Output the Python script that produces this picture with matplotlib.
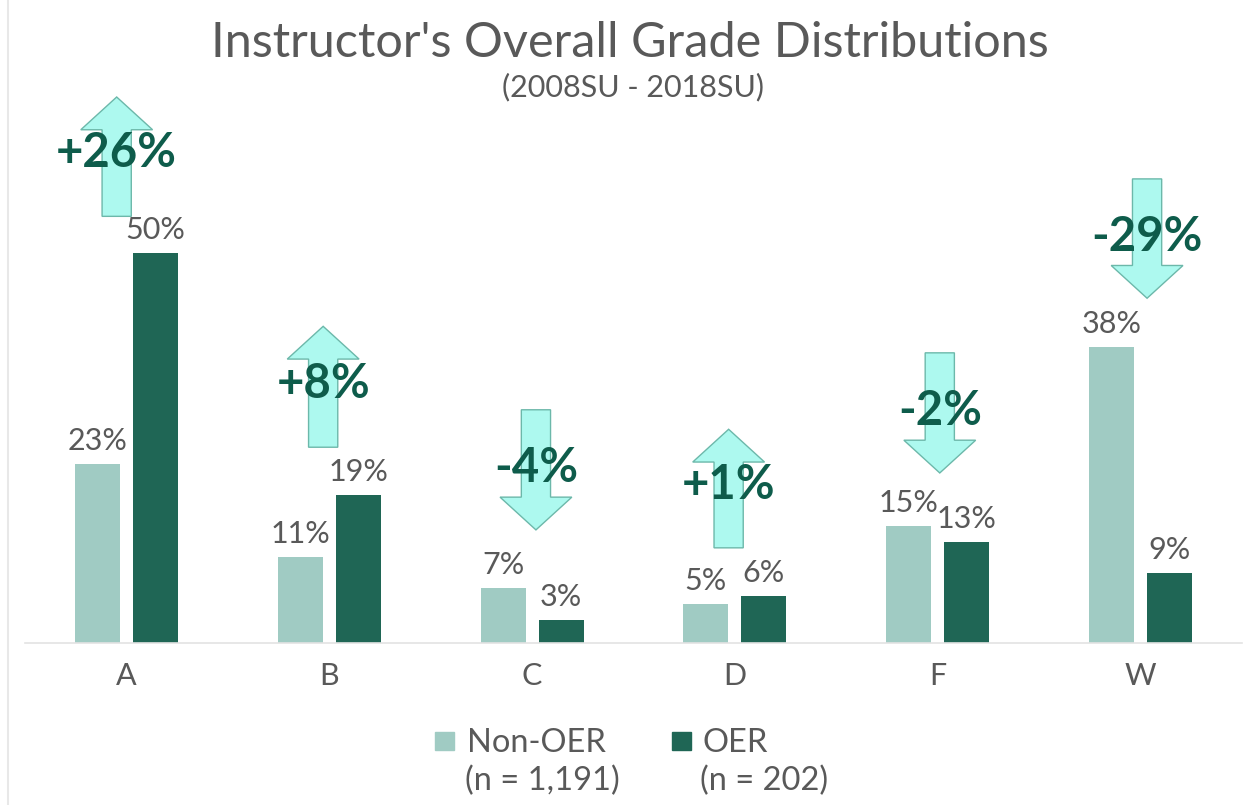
import numpy as np
import matplotlib
matplotlib.use("Agg")
import matplotlib.pyplot as plt
from matplotlib.patches import Polygon, Rectangle
from matplotlib.lines import Line2D

plt.rcParams["font.family"] = ["Lato", "DejaVu Sans"]

# data
grades = ["A", "B", "C", "D", "F", "W"]
non_oer = [23, 11, 7, 5, 15, 38]
oer = [50, 19, 3, 6, 13, 9]
changes = ["+26%", "+8%", "-4%", "+1%", "-2%", "-29%"]
series_names = ["Non-OER", "OER"]
series_counts = ["(n = 1,191)", "(n = 202)"]

# arrow layout (x offset from category centre, tail / tip / label height in % units)
arrow_dx = [-0.048, -0.030, 0.019, -0.031, 0.010, 0.032]
arrow_tail = [54.7, 25.1, 29.9, 12.2, 37.2, 59.5]
arrow_tip = [70.0, 40.6, 14.5, 27.4, 21.8, 44.2]
arrow_text_y = [62.8, 33.2, 22.5, 20.2, 29.8, 52.0]

C_NON = "#a0cbc3"
C_OER = "#1f6655"
C_ARROW = "#adf9ef"
C_ARROW_EDGE = "#6cb8aa"
C_CHANGE = "#0e5c4b"
C_TEXT = "#595959"

W, H = 1248, 805
fig = plt.figure(figsize=(W / 100, H / 100), dpi=100)
ax = fig.add_axes([25 / W, (H - 643) / H, 1217 / W, (643 - 90) / H])

x = np.arange(len(grades))
bw, off = 0.222, 0.143
ax.bar(x - off, non_oer, bw, color=C_NON, zorder=2)
ax.bar(x + off, oer, bw, color=C_OER, zorder=2)
ax.set_xlim(-0.5, len(grades) - 0.5)
ax.set_ylim(0, (643 - 90) / 7.8)

for xi, v in zip(x - off, non_oer):
    ax.text(xi, v + 1.8, f"{v}%", ha="center", va="baseline", fontsize=22, color=C_TEXT)
for xi, v in zip(x + off, oer):
    ax.text(xi, v + 1.8, f"{v}%", ha="center", va="baseline", fontsize=22, color=C_TEXT)

# change arrows
sw, hw, hl = 0.072, 0.177, 4.2
for i, lab in enumerate(changes):
    xc = x[i] + arrow_dx[i]
    y0, y1 = arrow_tail[i], arrow_tip[i]
    s = np.sign(y1 - y0)
    yb = y1 - s * hl
    pts = [(xc - sw, y0), (xc - sw, yb), (xc - hw, yb), (xc, y1),
           (xc + hw, yb), (xc + sw, yb), (xc + sw, y0)]
    ax.add_patch(Polygon(pts, closed=True, facecolor=C_ARROW, edgecolor=C_ARROW_EDGE,
                         linewidth=1.0, zorder=3, clip_on=False))
    ax.text(xc, arrow_text_y[i], lab, ha="center", va="center", fontsize=34,
            fontweight="bold", color=C_CHANGE, zorder=4)

ax.set_xticks(x)
ax.set_xticklabels(grades, fontsize=22, color=C_TEXT)
ax.tick_params(axis="x", length=0, pad=14)
ax.set_yticks([])
for sp in ["top", "right", "left"]:
    ax.spines[sp].set_visible(False)
ax.spines["bottom"].set_color("#e3e3e3")
ax.spines["bottom"].set_linewidth(1.2)

fig.text(630 / W, (H - 57) / H, "Instructor's Overall Grade Distributions",
         ha="center", va="baseline", fontsize=35, color=C_TEXT)
fig.text(633 / W, (H - 96) / H, "(2008SU - 2018SU)", ha="center", va="baseline",
         fontsize=22, color=C_TEXT)

# legend, drawn by hand so the swatch sits on the first line
for sx, tx, col, name, cnt in [(435, 467, C_NON, series_names[0], series_counts[0]),
                               (672, 702, C_OER, series_names[1], series_counts[1])]:
    fig.add_artist(Rectangle((sx / W, (H - 750) / H), 19 / W, 18 / H,
                             transform=fig.transFigure, color=col))
    fig.text(tx / W, (H - 752) / H, name, ha="left", va="baseline", fontsize=23.5, color=C_TEXT)
    fig.text((tx - 2) / W, (H - 790) / H, cnt, ha="left", va="baseline", fontsize=23.5, color=C_TEXT)

fig.add_artist(Line2D([8 / W, 8 / W], [0, 1], transform=fig.transFigure,
                      color="#e8e8e8", linewidth=1.5))

fig.savefig("out.png", dpi=100)
